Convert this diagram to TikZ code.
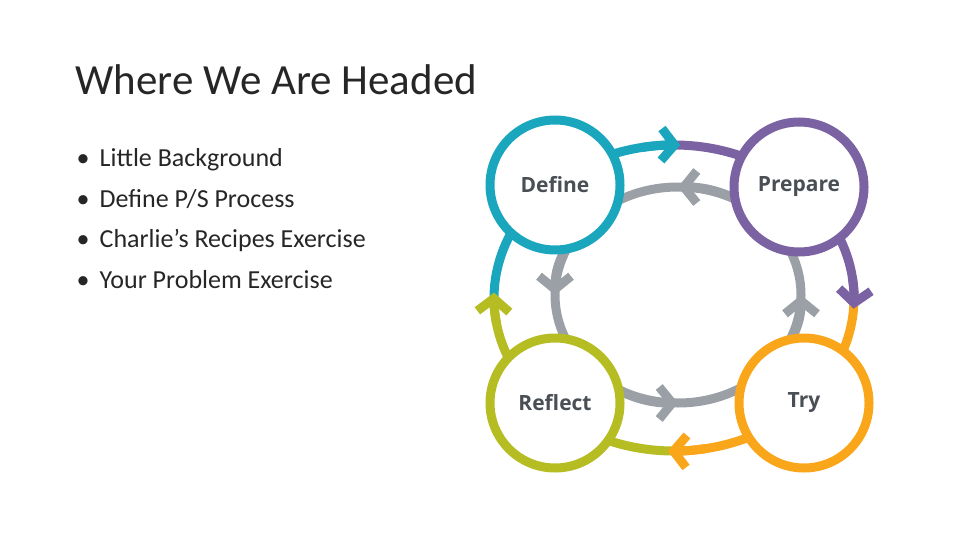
\documentclass[tikz,border=0pt]{standalone}
\usepackage{fontspec}
\setmainfont{Carlito}
\newfontfamily\lab{Open Sans}
\usetikzlibrary{arrows.meta}
\definecolor{cteal}{HTML}{1AA7BE}
\definecolor{cpurp}{HTML}{7B62A3}
\definecolor{corng}{HTML}{F9A61A}
\definecolor{cgreen}{HTML}{B5BD22}
\definecolor{cgray}{HTML}{9BA0A6}
\definecolor{ctext}{HTML}{4A4F55}
\begin{document}
\begin{tikzpicture}[x=1pt,y=-1pt,
  ring/.style={line width=9pt},
  chev/.style={-{Straight Barb[length=13pt,width=32pt,line width=9pt]}},
  stage/.style={circle,draw,line width=9pt,fill=white,minimum size=130pt,inner sep=0pt,font=\lab\bfseries\fontsize{21}{24}\selectfont,text=ctext}]
\useasboundingbox (0,0) rectangle (960,540);
\node[anchor=west,font=\fontsize{43}{48}\selectfont,text=black!85] (title) at (72,80) {Where We Are Headed};
\node[anchor=north west,align=left,font=\fontsize{26}{40.5}\selectfont,text=black!85] (list) at (73,145) {•\, Little Background\\•\, Define P/S Process\\•\, Charlie’s Recipes Exercise\\•\, Your Problem Exercise};
% gray inner ring
\draw[ring,cgray] (678,295) ellipse[x radius=123,y radius=108];
\draw[ring,cgray,chev] (678,295) ++(30:123 and -108) arc[start angle=30,end angle=90,x radius=123,y radius=-108];
\draw[ring,cgray,chev] (678,295) ++(120:123 and -108) arc[start angle=120,end angle=180,x radius=123,y radius=-108];
\draw[ring,cgray,chev] (678,295) ++(210:123 and -108) arc[start angle=210,end angle=270,x radius=123,y radius=-108];
\draw[ring,cgray,chev] (678,295) ++(300:123 and -108) arc[start angle=300,end angle=360,x radius=123,y radius=-108];
% outer ring segments
\draw[ring,cteal] (674,298) ++(182:180 and -153) arc[start angle=182,end angle=90,x radius=180,y radius=-153];
\draw[ring,cpurp] (674,298) ++(90:180 and -153) arc[start angle=90,end angle=-2,x radius=180,y radius=-153];
\draw[ring,corng] (674,298) ++(-2:180 and -153) arc[start angle=-2,end angle=-90,x radius=180,y radius=-153];
\draw[ring,cgreen] (674,298) ++(-90:180 and -153) arc[start angle=-90,end angle=-178,x radius=180,y radius=-153];
% outer chevrons on top
\draw[ring,cteal,chev] (674,298) ++(100:180 and -153) arc[start angle=100,end angle=88,x radius=180,y radius=-153];
\draw[ring,cpurp,chev] (674,298) ++(8:180 and -153) arc[start angle=8,end angle=-4,x radius=180,y radius=-153];
\draw[ring,corng,chev] (674,298) ++(-80:180 and -153) arc[start angle=-80,end angle=-92,x radius=180,y radius=-153];
\draw[ring,cgreen,chev] (674,298) ++(-170:180 and -153) arc[start angle=-170,end angle=-182,x radius=180,y radius=-153];
% stages
\node[stage,draw=cteal] (define) at (555,185) {Define};
\node[stage,draw=cpurp] (prepare) at (799,187) {Prepare};
\node[stage,draw=cgreen] (reflect) at (555,403) {Reflect};
\node[stage,draw=corng] (try) at (804,403) {Try};
\end{tikzpicture}
\end{document}
